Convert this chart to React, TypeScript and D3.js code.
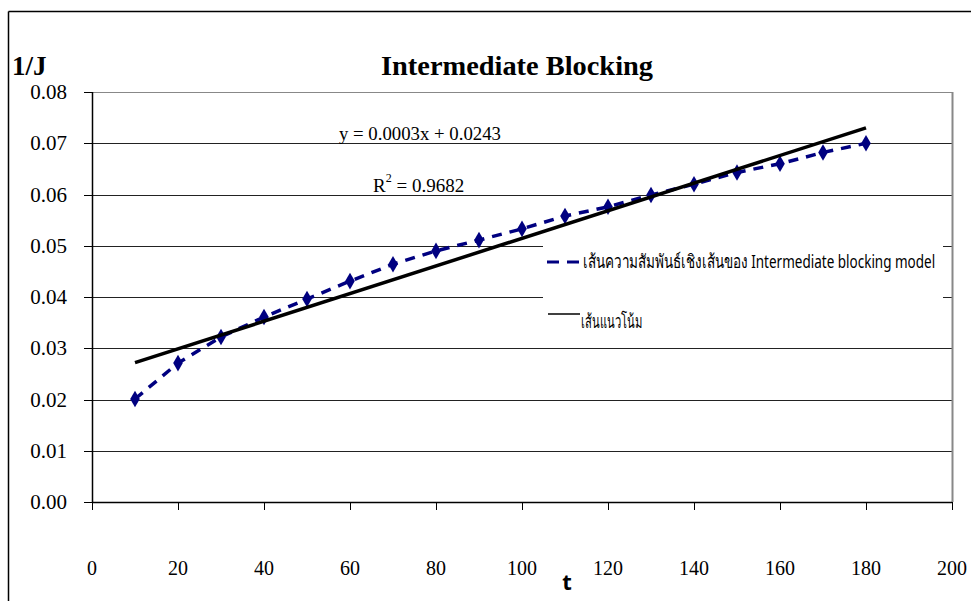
import React, { useLayoutEffect, useRef, useState } from "react";
import * as d3 from "d3";

const times = [10, 20, 30, 40, 50, 60, 70, 80, 90, 100, 110, 120, 130, 140, 150, 160, 170, 180];
const invFlux = [0.0201, 0.0271, 0.0322, 0.0361, 0.0396, 0.0431, 0.0464, 0.049, 0.0511, 0.0533, 0.0558, 0.0576, 0.0599, 0.062, 0.0643, 0.066, 0.0682, 0.07];
const xTicks = [0, 20, 40, 60, 80, 100, 120, 140, 160, 180, 200];
const yTicks = [0, 0.01, 0.02, 0.03, 0.04, 0.05, 0.06, 0.07, 0.08];
const title = "Intermediate Blocking";
const yLabel = "1/J";
const xLabel = "t";
const equationText = "y = 0.0003x + 0.0243";
const r2Value = " = 0.9682";
const legendSeries = "เส้นความสัมพันธ์เชิงเส้นของ Intermediate blocking model";
const legendTrend = "เส้นแนวโน้ม";

const W = 971;
const H = 601;
const plot = { left: 92, right: 952, top: 92, bottom: 502 };

function FitText(props: { x: number; y: number; width: number; fontFamily: string; fontSize: number; children: string }) {
  const ref = useRef<SVGTextElement>(null);
  const [sx, setSx] = useState(1);
  useLayoutEffect(() => {
    if (ref.current) {
      const w = ref.current.getComputedTextLength();
      if (w > 0) setSx(props.width / w);
    }
  }, [props.width, props.children]);
  return (
    <text ref={ref} transform={`translate(${props.x},${props.y}) scale(${sx},1)`} fontFamily={props.fontFamily} fontSize={props.fontSize}>
      {props.children}
    </text>
  );
}

export default function App() {
  const x = d3.scaleLinear().domain([0, 200]).range([plot.left, plot.right]);
  const y = d3.scaleLinear().domain([0, 0.08]).range([plot.bottom, plot.top]);

  const pts = times.map((t, i) => [t, invFlux[i]] as [number, number]);
  const line = d3
    .line<[number, number]>()
    .x((d) => x(d[0]))
    .y((d) => y(d[1]));

  // least squares trend line
  const n = pts.length;
  const mx = d3.mean(times) as number;
  const my = d3.mean(invFlux) as number;
  let sxy = 0;
  let sxx = 0;
  pts.forEach(([a, b]) => {
    sxy += (a - mx) * (b - my);
    sxx += (a - mx) * (a - mx);
  });
  const slope = sxy / sxx;
  const icpt = my - slope * mx;
  const t0 = times[0];
  const t1 = times[n - 1];

  const diamond = d3.symbol().type(d3.symbolDiamond).size(80)() as string;
  const serif = "'Liberation Serif', 'Times New Roman', serif";
  const narrow = "'Liberation Sans Narrow', 'Arial Narrow', 'Noto Sans', sans-serif";

  return (
    <svg width={W} height={H} style={{ position: "absolute", left: 0, top: 0, background: "#fff" }}>
      <rect x={0} y={0} width={W} height={H} fill="#fff" />
      {/* outer chart frame */}
      <line x1={8.5} y1={11.5} x2={W} y2={11.5} stroke="#000" strokeWidth={1.5} />
      <line x1={8.5} y1={11.5} x2={8.5} y2={H} stroke="#000" strokeWidth={1.5} />

      {/* gridlines */}
      {yTicks.map((v) => (
        <line key={"g" + v} x1={plot.left} x2={plot.right} y1={Math.round(y(v)) + 0.5} y2={Math.round(y(v)) + 0.5}
          stroke={v === 0.08 ? "#888" : "#222"} strokeWidth={1} />
      ))}
      {/* plot right border */}
      <line x1={plot.right + 0.5} x2={plot.right + 0.5} y1={plot.top} y2={plot.bottom} stroke="#888" strokeWidth={2} />

      {/* axes */}
      <line x1={plot.left} x2={plot.right} y1={plot.bottom + 0.5} y2={plot.bottom + 0.5} stroke="#000" strokeWidth={1.5} />
      <line x1={plot.left + 0.5} x2={plot.left + 0.5} y1={plot.top} y2={plot.bottom} stroke="#000" strokeWidth={1.5} />
      {xTicks.map((t) => (
        <g key={"xt" + t}>
          <line x1={Math.round(x(t)) + 0.5} x2={Math.round(x(t)) + 0.5} y1={plot.bottom} y2={plot.bottom + 8} stroke="#000" />
          <text x={x(t)} y={575} textAnchor="middle" fontFamily={serif} fontSize={20}>{t}</text>
        </g>
      ))}
      {yTicks.map((v) => (
        <g key={"yt" + v}>
          <line x1={plot.left - 8} x2={plot.left} y1={Math.round(y(v)) + 0.5} y2={Math.round(y(v)) + 0.5} stroke="#000" />
          <text x={67} y={y(v) + 7} textAnchor="end" fontFamily={serif} fontSize={21}>{v.toFixed(2)}</text>
        </g>
      ))}

      {/* title and axis labels */}
      <text x={517} y={75} textAnchor="middle" fontFamily={serif} fontWeight="bold" fontSize={27}
        textLength={272} lengthAdjust="spacingAndGlyphs">{title}</text>
      <text x={12} y={75} fontFamily={serif} fontWeight="bold" fontSize={27}>{yLabel}</text>
      <text x={567} y={590} textAnchor="middle" fontFamily={narrow} fontWeight="bold" fontSize={22}>{xLabel}</text>

      {/* legend background */}
      <rect x={543} y={238} width={400} height={100} fill="#fff" />
      <line x1={547} x2={579} y1={262} y2={262} stroke="#000080" strokeWidth={3} strokeDasharray="12,8" />
      <FitText x={583} y={268} width={354} fontFamily={narrow} fontSize={19}>{legendSeries}</FitText>
      <line x1={548} x2={580} y1={314} y2={314} stroke="#000" strokeWidth={1.5} />
      <FitText x={581} y={328} width={61} fontFamily={narrow} fontSize={19}>{legendTrend}</FitText>

      {/* data series */}
      <path d={line(pts) as string} fill="none" stroke="#000080" strokeWidth={3.5} strokeDasharray="10,8" />
      {pts.map(([t, v]) => (
        <path key={"m" + t} d={diamond} transform={`translate(${x(t)},${y(v)})`} fill="#000080" />
      ))}

      {/* trend line */}
      <line x1={x(t0)} y1={y(icpt + slope * t0)} x2={x(t1)} y2={y(icpt + slope * t1)} stroke="#000" strokeWidth={3.5} />

      {/* equation */}
      <text x={339} y={140} fontFamily={serif} fontSize={19} textLength={162} lengthAdjust="spacingAndGlyphs">{equationText}</text>
      <text x={373} y={192} fontFamily={serif} fontSize={19}>
        R<tspan dy={-10} fontSize={12}>2</tspan><tspan dy={10}>{r2Value}</tspan>
      </text>
    </svg>
  );
}
